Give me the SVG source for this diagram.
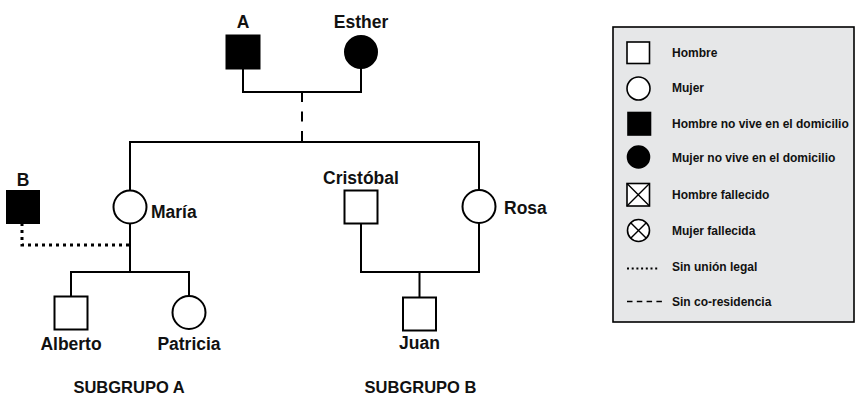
<svg xmlns="http://www.w3.org/2000/svg" width="856" height="396" viewBox="0 0 856 396">
<style>
  .ln{fill:none;stroke:#000;stroke-width:2}
  .dot{fill:none;stroke:#000;stroke-width:3;stroke-dasharray:3 4}
  .dash{fill:none;stroke:#000;stroke-width:2;stroke-dasharray:10 9.5}
  .open{fill:#fff;stroke:#000;stroke-width:2}
  .solid{fill:#000;stroke:#000;stroke-width:2}
  .lbl{font-family:"Liberation Sans",Arial,sans-serif;font-weight:bold;font-size:17.5px;fill:#111}
  .sub{font-family:"Liberation Sans",Arial,sans-serif;font-weight:bold;font-size:16.5px;fill:#111}
  .leg{font-family:"Liberation Sans",Arial,sans-serif;font-weight:bold;font-size:12px;fill:#111}
  .lopen{fill:#fff;stroke:#000;stroke-width:1.6}
  .lsolid{fill:#000;stroke:#000;stroke-width:1.6}
</style>
<rect width="856" height="396" fill="#fff"/>

<g id="connectors">
  <path class="ln" d="M243 69 V92 H361 V68"/>
  <path class="dash" d="M302 92 V142"/>
  <path class="ln" d="M130 191 V142 H479 V190"/>
  <path class="ln" d="M130 223 V272"/>
  <path class="ln" d="M71 296 V272 H189 V296"/>
  <path class="dot" d="M22 223 V245 H130"/>
  <path class="ln" d="M361 223 V272 H479 V223"/>
  <path class="ln" d="M419.5 272 V297"/>
</g>

<g id="node-A">
  <rect class="solid" x="226.5" y="35.5" width="33" height="33"/>
  <text class="lbl" x="243" y="28" text-anchor="middle">A</text>
</g>
<g id="node-Esther">
  <circle class="solid" cx="361" cy="52" r="16"/>
  <text class="lbl" x="361" y="28" text-anchor="middle">Esther</text>
</g>
<g id="node-B">
  <rect class="solid" x="7" y="191" width="32" height="32"/>
  <text class="lbl" x="23" y="185.5" text-anchor="middle">B</text>
</g>
<g id="node-Maria">
  <circle class="open" cx="130" cy="207" r="16.5"/>
  <text class="lbl" x="151" y="217.5">María</text>
</g>
<g id="node-Cristobal">
  <rect class="open" x="344.5" y="190.5" width="33" height="33"/>
  <text class="lbl" x="361" y="184" text-anchor="middle">Cristóbal</text>
</g>
<g id="node-Rosa">
  <circle class="open" cx="479" cy="206.5" r="16.5"/>
  <text class="lbl" x="504" y="213.5">Rosa</text>
</g>
<g id="node-Alberto">
  <rect class="open" x="54.5" y="296.5" width="33" height="33"/>
  <text class="lbl" x="71" y="350" text-anchor="middle">Alberto</text>
</g>
<g id="node-Patricia">
  <circle class="open" cx="189" cy="312.5" r="16.5"/>
  <text class="lbl" x="189" y="350" text-anchor="middle">Patricia</text>
</g>
<g id="node-Juan">
  <rect class="open" x="403" y="297.5" width="33" height="33"/>
  <text class="lbl" x="419.5" y="348.5" text-anchor="middle">Juan</text>
</g>

<g id="subgroups">
  <text class="sub" x="129" y="393" text-anchor="middle">SUBGRUPO A</text>
  <text class="sub" x="420.5" y="393" text-anchor="middle">SUBGRUPO B</text>
</g>

<g id="legend">
  <rect x="613" y="27" width="241" height="295" fill="#e6e7e8" stroke="#000" stroke-width="1.6"/>
  <rect class="lopen" x="627" y="42" width="22.5" height="21.5"/>
  <text class="leg" x="672" y="57">Hombre</text>
  <circle class="lopen" cx="638.5" cy="88.5" r="11.5"/>
  <text class="leg" x="672" y="92">Mujer</text>
  <rect class="lsolid" x="628" y="112.5" width="22.5" height="22.5"/>
  <text class="leg" x="672" y="128">Hombre no vive en el domicilio</text>
  <circle class="lsolid" cx="638.5" cy="157" r="11"/>
  <text class="leg" x="672" y="162">Mujer no vive en el domicilio</text>
  <rect class="lopen" x="627" y="183.5" width="22.5" height="22.5"/>
  <path d="M627 183.5 L649.5 206 M649.5 183.5 L627 206" stroke="#000" stroke-width="1.4"/>
  <text class="leg" x="672" y="198.5">Hombre fallecido</text>
  <circle class="lopen" cx="638.5" cy="230.5" r="11"/>
  <path d="M630.7 222.7 L646.3 238.3 M646.3 222.7 L630.7 238.3" stroke="#000" stroke-width="1.4"/>
  <text class="leg" x="672" y="234.5">Mujer fallecida</text>
  <path d="M627 268.5 H659" stroke="#000" stroke-width="2" stroke-dasharray="2 2.7"/>
  <text class="leg" x="672" y="271">Sin unión legal</text>
  <path d="M627 301.5 H662" stroke="#000" stroke-width="1.5" stroke-dasharray="5.5 4.3"/>
  <text class="leg" x="672" y="306">Sin co-residencia</text>
</g>
</svg>
